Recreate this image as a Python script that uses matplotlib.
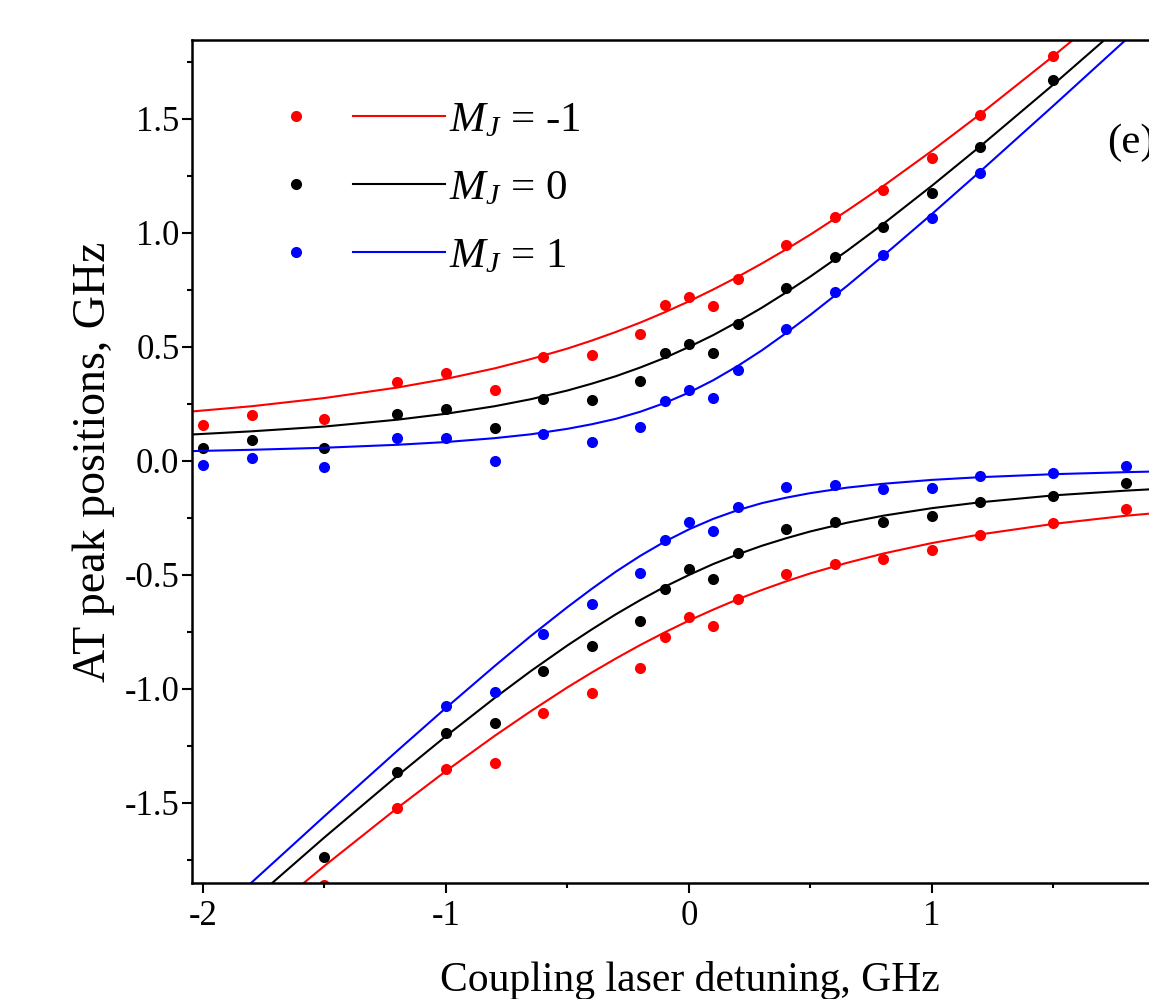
import matplotlib
matplotlib.use("Agg")
import matplotlib.pyplot as plt
from matplotlib.legend_handler import HandlerTuple
from matplotlib.ticker import MultipleLocator, FixedLocator, FormatStrFormatter

plt.rcParams['font.family'] = ['Liberation Serif', 'DejaVu Serif']
plt.rcParams['mathtext.fontset'] = 'custom'
plt.rcParams['mathtext.rm'] = 'Liberation Serif'
plt.rcParams['mathtext.it'] = 'Liberation Serif:italic'
plt.rcParams['axes.unicode_minus'] = False

# measured AT peak positions (GHz) vs coupling detuning (GHz)
det_up = [-2, -1.8, -1.5, -1.2, -1, -0.8, -0.6, -0.4, -0.2, -0.1, 0, 0.1, 0.2, 0.4, 0.6, 0.8, 1.0, 1.2, 1.5]
red_up = [0.158, 0.202, 0.183, 0.348, 0.385, 0.311, 0.458, 0.465, 0.557, 0.684, 0.718, 0.680, 0.797,
          0.947, 1.069, 1.189, 1.328, 1.518, 1.776]
black_up = [0.058, 0.092, 0.058, 0.206, 0.227, 0.143, 0.272, 0.268, 0.352, 0.475, 0.513, 0.475, 0.601,
            0.757, 0.896, 1.028, 1.177, 1.379, 1.671]
blue_up = [-0.018, 0.011, -0.028, 0.102, 0.102, 0.001, 0.117, 0.085, 0.148, 0.262, 0.311, 0.275, 0.399,
           0.578, 0.743, 0.904, 1.067, 1.262]

det_low = [-1.5, -1.2, -1, -0.8, -0.6, -0.4, -0.2, -0.1, 0, 0.1, 0.2, 0.4, 0.6, 0.8, 1.0, 1.2, 1.5, 1.8]
red_low = [-1.86, -1.522, -1.351, -1.325, -1.105, -1.018, -0.908, -0.773, -0.683, -0.724, -0.607,
           -0.496, -0.452, -0.431, -0.390, -0.325, -0.273, -0.212]
black_low = [-1.737, -1.364, -1.193, -1.149, -0.921, -0.811, -0.700, -0.561, -0.475, -0.518, -0.402,
             -0.300, -0.268, -0.266, -0.240, -0.181, -0.152, -0.098]
det_low_blue = [-1, -0.8, -0.6, -0.4, -0.2, -0.1, 0, 0.1, 0.2, 0.4, 0.6, 0.8, 1.0, 1.2, 1.5, 1.8]
blue_low = [-1.075, -1.013, -0.759, -0.627, -0.493, -0.346, -0.266, -0.306, -0.203, -0.116, -0.105,
            -0.124, -0.117, -0.066, -0.054, -0.020]

# fitted curves
det_fit = [-2.1, -1.8, -1.5, -1.2, -1.0, -0.8, -0.65, -0.5, -0.4, -0.3, -0.2, -0.1, 0,
           0.1, 0.2, 0.3, 0.4, 0.5, 0.65, 0.8, 1.0, 1.2, 1.5, 1.8, 2.1]
red_fit_up = [0.212, 0.240, 0.276, 0.322, 0.360, 0.406, 0.447, 0.493, 0.528, 0.566, 0.607, 0.652, 0.700,
              0.752, 0.807, 0.866, 0.928, 0.993, 1.097, 1.206, 1.360, 1.522, 1.776, 2.040, 2.312]
red_fit_low = [-2.312, -2.040, -1.776, -1.522, -1.360, -1.206, -1.097, -0.993, -0.928, -0.866, -0.807,
               -0.752, -0.700, -0.652, -0.607, -0.566, -0.528, -0.493, -0.447, -0.406, -0.360, -0.322,
               -0.276, -0.240, -0.212]
black_fit_up = [0.113, 0.130, 0.151, 0.181, 0.207, 0.240, 0.271, 0.309, 0.339, 0.372, 0.410, 0.452, 0.500,
                0.552, 0.610, 0.672, 0.739, 0.809, 0.921, 1.040, 1.207, 1.381, 1.651, 1.930, 2.213]
black_fit_low = [-2.213, -1.930, -1.651, -1.381, -1.207, -1.040, -0.921, -0.809, -0.739, -0.672, -0.610,
                 -0.552, -0.500, -0.452, -0.410, -0.372, -0.339, -0.309, -0.271, -0.240, -0.207, -0.181,
                 -0.151, -0.130, -0.113]
blue_fit_up = [0.042, 0.049, 0.058, 0.071, 0.083, 0.100, 0.117, 0.141, 0.161, 0.185, 0.216, 0.254, 0.300,
               0.354, 0.416, 0.485, 0.561, 0.641, 0.767, 0.900, 1.083, 1.271, 1.558, 1.849, 2.142]
blue_fit_low = [-2.142, -1.849, -1.558, -1.271, -1.083, -0.900, -0.767, -0.641, -0.561, -0.485, -0.416,
                -0.354, -0.300, -0.254, -0.216, -0.185, -0.161, -0.141, -0.117, -0.100, -0.083, -0.071,
                -0.058, -0.049, -0.042]

labels = ["$M_J$ = -1", "$M_J$ = 0", "$M_J$ = 1"]
colors = ["#ff0000", "#000000", "#0000ff"]
xticks = [-2, -1, 0, 1]

fig = plt.figure(figsize=(11.49, 9.99), dpi=100)
ax = fig.add_axes([0.1671, 0.1161, 0.866, 0.8438])

series = [
    (det_up, red_up, det_low, red_low, red_fit_up, red_fit_low),
    (det_up, black_up, det_low, black_low, black_fit_up, black_fit_low),
    (det_up[:len(blue_up)], blue_up, det_low_blue, blue_low, blue_fit_up, blue_fit_low),
]

handles = []
for (xu, yu, xl, yl, fu, fl), c in zip(series, colors):
    ln, = ax.plot(det_fit, fu, color=c, lw=1.5)
    ax.plot(det_fit, fl, color=c, lw=1.5)
    pts, = ax.plot(xu, yu, 'o', color=c, ms=8, mec='none')
    ax.plot(xl, yl, 'o', color=c, ms=8, mec='none')
    handles.append((pts, ln))

ax.set_xlim(-2.045, 2.05)
ax.set_ylim(-1.851, 1.846)

ax.xaxis.set_major_locator(FixedLocator(xticks))
ax.xaxis.set_minor_locator(FixedLocator([-1.5, -0.5, 0.5, 1.5]))
ax.yaxis.set_major_locator(MultipleLocator(0.5))
ax.yaxis.set_minor_locator(MultipleLocator(0.25))
ax.yaxis.set_major_formatter(FormatStrFormatter('%.1f'))
ax.xaxis.set_major_formatter(FormatStrFormatter('%d'))

ax.tick_params(which='major', direction='out', length=7, width=1.5, labelsize=25)
ax.tick_params(axis='x', which='major', pad=5)
ax.tick_params(axis='y', which='major', pad=2)
ax.tick_params(which='minor', direction='out', length=3.5, width=1.5)
for sp in ax.spines.values():
    sp.set_linewidth(1.8)

ax.set_xlabel("Coupling laser detuning, GHz", fontsize=30)
ax.set_ylabel("AT peak positions, GHz", fontsize=33)
ax.xaxis.set_label_coords(0.5, -0.092)
ax.yaxis.set_label_coords(-0.077, 0.5)

ax.legend(handles, labels, handler_map={tuple: HandlerTuple(ndivide=2, pad=0.26)},
          loc='upper left', bbox_to_anchor=(0.0583, 0.9277), frameon=False, fontsize=31,
          handlelength=4.53, handletextpad=0.1, borderpad=0, labelspacing=0.67, borderaxespad=0)

ax.text(1.72, 1.395, "(e)", fontsize=31, ha='left', va='center')

fig.savefig("out.png", dpi=100)
